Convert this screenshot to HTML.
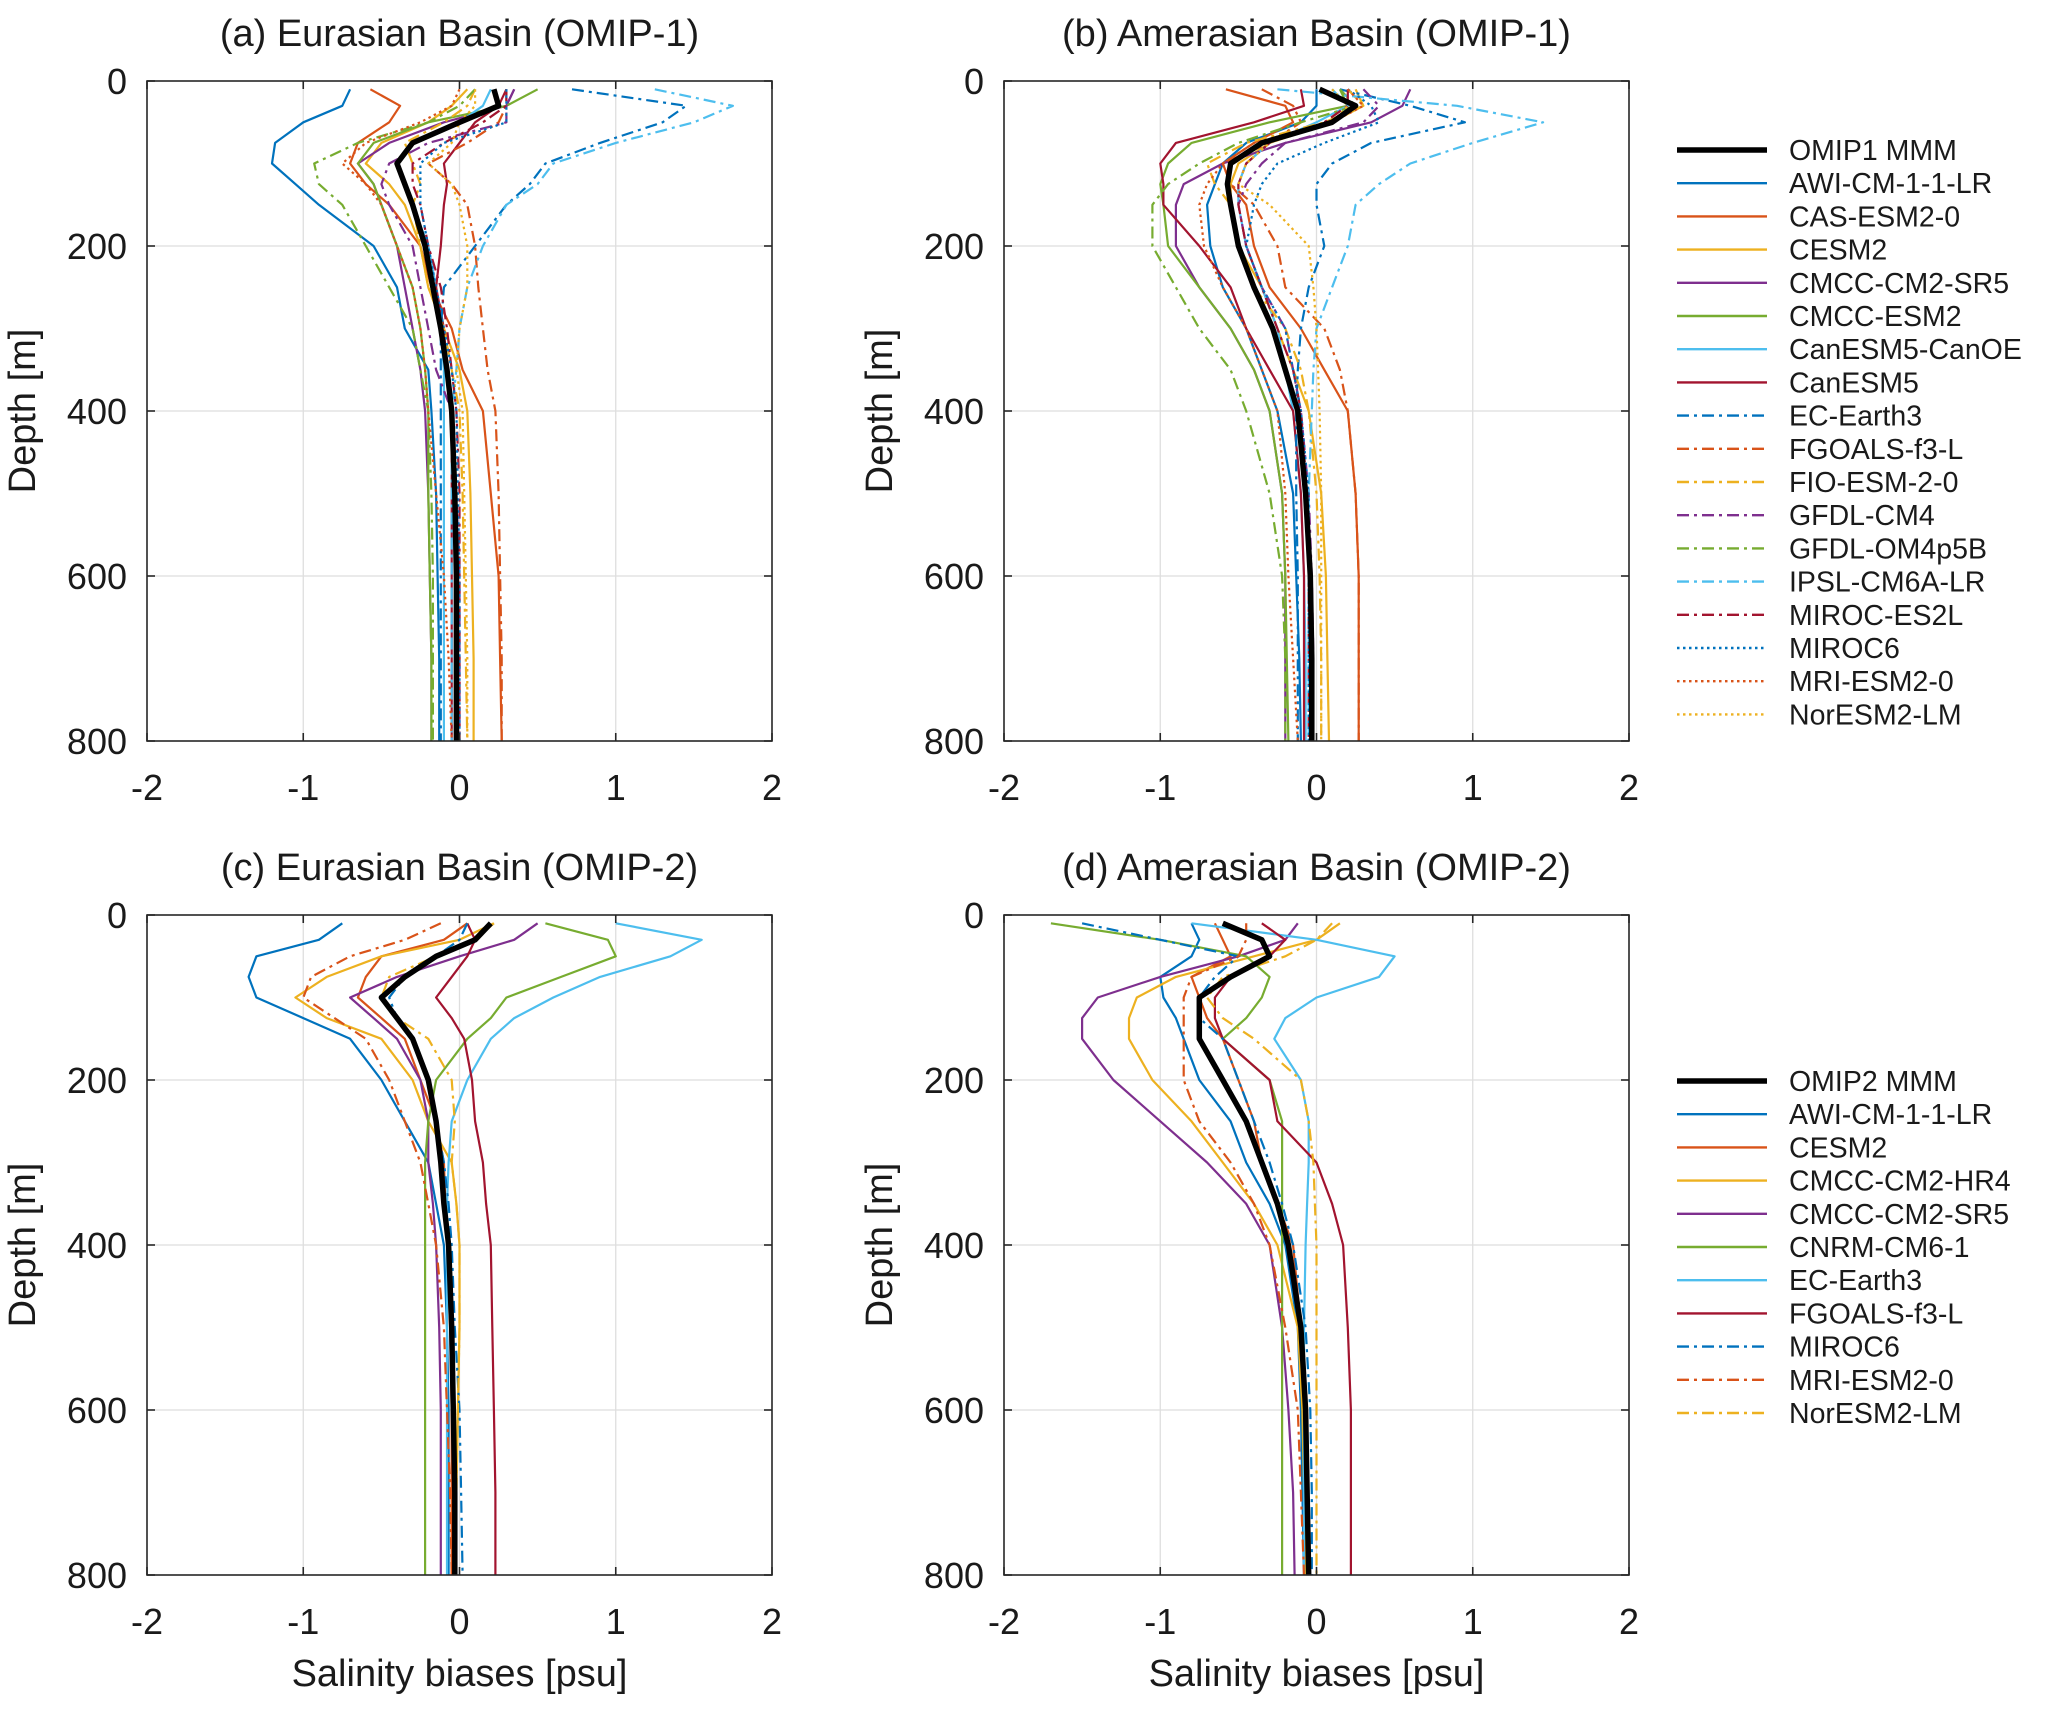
<!DOCTYPE html>
<html><head><meta charset="utf-8">
<style>
html,body{margin:0;padding:0;background:#fff;}
svg{display:block;font-family:"Liberation Sans",Arial,sans-serif;}
</style></head>
<body>
<svg id="fig" width="2067" height="1713" viewBox="0 0 2067 1713" xmlns="http://www.w3.org/2000/svg"></svg>
<script>
const depths=[10,30,50,75,100,125,150,200,250,300,350,400,500,600,700,800];
const xTicks=[-2,-1,0,1,2];
const yTicks=[0,200,400,600,800];
const omip1Names=["AWI-CM-1-1-LR","CAS-ESM2-0","CESM2","CMCC-CM2-SR5","CMCC-ESM2","CanESM5-CanOE","CanESM5","EC-Earth3","FGOALS-f3-L","FIO-ESM-2-0","GFDL-CM4","GFDL-OM4p5B","IPSL-CM6A-LR","MIROC-ES2L","MIROC6","MRI-ESM2-0","NorESM2-LM"];
const omip2Names=["AWI-CM-1-1-LR","CESM2","CMCC-CM2-HR4","CMCC-CM2-SR5","CNRM-CM6-1","EC-Earth3","FGOALS-f3-L","MIROC6","MRI-ESM2-0","NorESM2-LM"];
// Panel (a) Eurasian OMIP-1
const mmmA=[0.22,0.25,0.0,-0.3,-0.4,-0.35,-0.3,-0.22,-0.17,-0.12,-0.08,-0.05,-0.03,-0.02,-0.02,-0.02];
const seriesA=[
[-0.7,-0.75,-1.0,-1.18,-1.2,-1.05,-0.9,-0.55,-0.4,-0.35,-0.2,-0.18,-0.15,-0.14,-0.13,-0.13],
[-0.57,-0.38,-0.45,-0.65,-0.7,-0.6,-0.45,-0.25,-0.18,-0.05,0.02,0.15,0.2,0.25,0.26,0.27],
[0.05,-0.05,-0.2,-0.5,-0.6,-0.45,-0.35,-0.25,-0.2,-0.1,0.0,0.05,0.07,0.08,0.09,0.09],
[0.35,0.3,-0.1,-0.45,-0.65,-0.55,-0.5,-0.4,-0.35,-0.3,-0.25,-0.22,-0.2,-0.19,-0.18,-0.18],
[0.5,0.3,-0.2,-0.55,-0.65,-0.55,-0.5,-0.4,-0.3,-0.25,-0.22,-0.2,-0.2,-0.19,-0.18,-0.18],
[0.2,0.15,0,-0.3,-0.4,-0.35,-0.3,-0.2,-0.15,-0.12,-0.1,-0.1,-0.1,-0.1,-0.1,-0.1],
[0.3,0.25,0.1,0,-0.1,-0.08,-0.1,-0.12,-0.15,-0.1,-0.08,-0.05,-0.05,-0.05,-0.05,-0.05],
[0.72,1.45,1.3,0.9,0.55,0.45,0.3,0.1,-0.1,-0.12,-0.12,-0.12,-0.12,-0.12,-0.12,-0.12],
[0.3,0.3,0.25,0.05,-0.2,-0.05,0.05,0.1,0.12,0.15,0.18,0.23,0.25,0.26,0.27,0.27],
[0.1,0.05,-0.1,-0.35,-0.3,-0.25,-0.3,-0.25,-0.2,-0.1,-0.05,0,0.02,0.03,0.04,0.05],
[0.35,0.3,0.3,-0.2,-0.45,-0.5,-0.45,-0.3,-0.25,-0.2,-0.15,-0.05,-0.02,0,0,0],
[0.1,0,-0.2,-0.65,-0.93,-0.9,-0.75,-0.6,-0.45,-0.3,-0.25,-0.2,-0.18,-0.17,-0.17,-0.17],
[1.25,1.75,1.5,1.0,0.6,0.5,0.3,0.15,0.05,0,-0.02,-0.05,-0.05,-0.05,-0.05,-0.05],
[0.3,0.3,0.15,-0.1,-0.3,-0.3,-0.25,-0.2,-0.12,-0.08,-0.05,-0.02,0,0,0,0],
[0.3,0.3,0.3,-0.1,-0.25,-0.25,-0.25,-0.2,-0.15,-0.1,-0.05,-0.02,-0.01,0,0,0],
[0,-0.05,-0.25,-0.6,-0.75,-0.6,-0.5,-0.4,-0.3,-0.25,-0.22,-0.2,-0.15,-0.1,-0.07,-0.05],
[0.1,0.1,0,-0.05,-0.2,-0.05,0,0.05,0.05,0,-0.02,0.02,0.03,0.04,0.05,0.05]];
// Panel (b) Amerasian OMIP-1
const mmmB=[0.02,0.25,0.1,-0.35,-0.55,-0.57,-0.55,-0.5,-0.4,-0.28,-0.2,-0.12,-0.07,-0.04,-0.03,-0.03];
const seriesB=[
[0.0,0.0,-0.1,-0.45,-0.6,-0.65,-0.7,-0.68,-0.6,-0.45,-0.35,-0.25,-0.15,-0.13,-0.11,-0.1],
[-0.58,-0.2,-0.15,-0.4,-0.6,-0.55,-0.45,-0.4,-0.3,-0.1,0.05,0.2,0.25,0.27,0.27,0.27],
[0.25,0.3,0.1,-0.3,-0.5,-0.55,-0.55,-0.5,-0.35,-0.25,-0.15,-0.05,0.03,0.06,0.07,0.08],
[0.6,0.55,0.35,-0.2,-0.6,-0.85,-0.9,-0.9,-0.75,-0.55,-0.4,-0.3,-0.22,-0.2,-0.2,-0.2],
[0.15,0.2,-0.3,-0.8,-0.95,-1.0,-0.98,-0.95,-0.75,-0.55,-0.4,-0.3,-0.22,-0.2,-0.19,-0.18],
[0.1,0.2,0.0,-0.3,-0.45,-0.5,-0.5,-0.45,-0.35,-0.25,-0.2,-0.15,-0.1,-0.08,-0.07,-0.07],
[-0.1,-0.08,-0.4,-0.9,-1.0,-0.98,-0.98,-0.75,-0.55,-0.45,-0.3,-0.15,-0.1,-0.08,-0.08,-0.08],
[0.15,0.6,0.95,0.35,0.1,0.0,0.0,0.05,-0.05,-0.1,-0.12,-0.13,-0.13,-0.12,-0.12,-0.12],
[-0.35,-0.15,-0.1,-0.3,-0.6,-0.55,-0.4,-0.25,-0.2,0.05,0.15,0.2,0.25,0.27,0.27,0.27],
[0.2,0.3,0.05,-0.45,-0.7,-0.65,-0.55,-0.5,-0.4,-0.2,-0.1,-0.05,0.0,0.02,0.03,0.03],
[0.3,0.4,0.3,-0.2,-0.35,-0.45,-0.5,-0.45,-0.35,-0.2,-0.15,-0.1,-0.05,-0.03,-0.02,-0.02],
[0.15,0.25,-0.1,-0.5,-0.75,-0.95,-1.05,-1.05,-0.9,-0.75,-0.55,-0.45,-0.3,-0.22,-0.2,-0.2],
[-0.25,0.9,1.45,1.0,0.6,0.4,0.25,0.2,0.1,0.0,-0.02,-0.03,-0.05,-0.05,-0.05,-0.05],
[0.2,0.2,0.05,-0.3,-0.45,-0.5,-0.5,-0.45,-0.35,-0.25,-0.15,-0.1,-0.06,-0.05,-0.05,-0.05],
[0.2,0.35,0.4,0.05,-0.25,-0.35,-0.4,-0.45,-0.35,-0.2,-0.15,-0.1,-0.05,-0.05,-0.05,-0.05],
[0.2,0.3,0.1,-0.4,-0.6,-0.7,-0.75,-0.72,-0.6,-0.45,-0.35,-0.25,-0.2,-0.18,-0.15,-0.12],
[0.1,0.2,0.1,-0.3,-0.45,-0.5,-0.3,-0.05,-0.02,0.0,0.01,0.02,0.03,0.03,0.03,0.03]];
// Panel (c) Eurasian OMIP-2
const mmmC=[0.2,0.1,-0.15,-0.35,-0.5,-0.4,-0.3,-0.2,-0.15,-0.12,-0.1,-0.07,-0.05,-0.04,-0.03,-0.03];
const seriesC=[
[-0.75,-0.9,-1.3,-1.35,-1.3,-1.0,-0.7,-0.5,-0.35,-0.2,-0.15,-0.1,-0.08,-0.07,-0.07,-0.07],
[0.05,-0.1,-0.5,-0.6,-0.65,-0.5,-0.35,-0.25,-0.15,-0.1,-0.09,-0.08,-0.06,-0.05,-0.05,-0.05],
[0.22,0.0,-0.5,-0.85,-1.05,-0.85,-0.5,-0.3,-0.2,-0.05,-0.02,0.0,0.0,-0.01,-0.02,-0.02],
[0.5,0.35,0.0,-0.4,-0.7,-0.55,-0.4,-0.25,-0.2,-0.2,-0.17,-0.15,-0.13,-0.12,-0.12,-0.12],
[0.55,0.95,1.0,0.65,0.3,0.2,0.05,-0.15,-0.2,-0.22,-0.22,-0.22,-0.22,-0.22,-0.22,-0.22],
[1.0,1.55,1.35,0.9,0.6,0.35,0.2,0.05,-0.05,-0.07,-0.08,-0.08,-0.08,-0.08,-0.08,-0.08],
[0.05,0.1,0.05,-0.05,-0.15,-0.05,0.03,0.08,0.1,0.15,0.17,0.2,0.21,0.22,0.23,0.23],
[0.05,0.0,-0.15,-0.35,-0.45,-0.4,-0.3,-0.2,-0.15,-0.1,-0.07,-0.05,-0.03,0.0,0.01,0.02],
[-0.12,-0.35,-0.7,-0.95,-1.0,-0.8,-0.6,-0.45,-0.35,-0.25,-0.2,-0.15,-0.1,-0.08,-0.06,-0.05],
[0.22,0.1,-0.15,-0.45,-0.5,-0.4,-0.2,-0.05,-0.03,-0.05,-0.02,0.0,0.0,-0.01,-0.02,-0.02]];
// Panel (d) Amerasian OMIP-2
const mmmD=[-0.6,-0.35,-0.3,-0.55,-0.75,-0.75,-0.75,-0.6,-0.45,-0.35,-0.25,-0.18,-0.1,-0.07,-0.06,-0.05];
const seriesD=[
[-0.8,-0.75,-0.8,-1.0,-0.98,-0.9,-0.85,-0.75,-0.55,-0.45,-0.3,-0.2,-0.12,-0.1,-0.09,-0.08],
[-0.65,-0.6,-0.55,-0.8,-0.75,-0.7,-0.6,-0.5,-0.4,-0.35,-0.25,-0.15,-0.1,-0.08,-0.07,-0.06],
[0.15,0.0,-0.4,-0.9,-1.15,-1.2,-1.2,-1.05,-0.8,-0.6,-0.4,-0.25,-0.12,-0.09,-0.08,-0.07],
[-0.12,-0.2,-0.5,-1.0,-1.4,-1.5,-1.5,-1.3,-1.0,-0.7,-0.45,-0.3,-0.22,-0.18,-0.15,-0.14],
[-1.7,-1.0,-0.45,-0.3,-0.35,-0.45,-0.6,-0.3,-0.22,-0.22,-0.22,-0.22,-0.22,-0.22,-0.22,-0.22],
[-0.8,0.0,0.5,0.4,0.0,-0.2,-0.27,-0.1,-0.05,-0.05,-0.06,-0.07,-0.08,-0.08,-0.08,-0.08],
[-0.35,-0.2,-0.3,-0.55,-0.65,-0.65,-0.6,-0.3,-0.25,0.0,0.1,0.17,0.2,0.22,0.22,0.22],
[-1.5,-1.0,-0.5,-0.65,-0.75,-0.75,-0.6,-0.5,-0.4,-0.3,-0.22,-0.15,-0.07,-0.04,-0.03,-0.03],
[-0.45,-0.45,-0.5,-0.8,-0.85,-0.85,-0.85,-0.85,-0.75,-0.55,-0.4,-0.3,-0.2,-0.12,-0.1,-0.08],
[0.1,0.0,-0.2,-0.6,-0.7,-0.6,-0.4,-0.1,-0.05,-0.02,-0.01,0.0,0.0,0.0,0.0,0.0]];

const C={blue:"#0072BD",red:"#D95319",yel:"#EDB120",pur:"#7E2F8E",grn:"#77AC30",cya:"#4DBEEE",drd:"#A2142F"};
const DD="12,5,3,5", DOT="2.5,3.5";
const style1=[[C.blue,""],[C.red,""],[C.yel,""],[C.pur,""],[C.grn,""],[C.cya,""],[C.drd,""],[C.blue,DD],[C.red,DD],[C.yel,DD],[C.pur,DD],[C.grn,DD],[C.cya,DD],[C.drd,DD],[C.blue,DOT],[C.red,DOT],[C.yel,DOT]];
const style2=[[C.blue,""],[C.red,""],[C.yel,""],[C.pur,""],[C.grn,""],[C.cya,""],[C.drd,""],[C.blue,DD],[C.red,DD],[C.yel,DD]];

const NS="http://www.w3.org/2000/svg";
const svg=document.getElementById("fig");
function mk(tag,attrs,parent){const e=document.createElementNS(NS,tag);for(const k in attrs)e.setAttribute(k,attrs[k]);(parent||svg).appendChild(e);return e;}
const PW=625,PH=660;

function panel(id,x0,y0,title,mmm,series,styles,names,showX){
  const g=mk("g",{});
  
  
  const xs=v=>x0+(v+2)/4*PW;
  const ys=d=>y0+d/800*PH;
  xTicks.forEach(t=>{if(t>-2&&t<2){const l=mk("line",{x1:xs(t),x2:xs(t),y1:y0,y2:y0+PH,stroke:"#dedede","stroke-width":1.3},g);
    }});
  yTicks.forEach(t=>{if(t>0&&t<800){const l=mk("line",{x1:x0,x2:x0+PW,y1:ys(t),y2:ys(t),stroke:"#dedede","stroke-width":1.3},g);
    }});
  series.forEach((s,i)=>{
    const pts=s.map((v,k)=>xs(v).toFixed(1)+","+ys(depths[k]).toFixed(1)).join(" ");
    const a={points:pts,fill:"none",stroke:styles[i][0],"stroke-width":2.2,"stroke-linejoin":"round"};
    if(styles[i][1])a["stroke-dasharray"]=styles[i][1];
    const p=mk("polyline",a,g);
    
    
  });
  const mp=mk("polyline",{points:mmm.map((v,k)=>xs(v).toFixed(1)+","+ys(depths[k]).toFixed(1)).join(" "),fill:"none",stroke:"#000","stroke-width":5.5,"stroke-linejoin":"round"},g);
  
  
  const r=mk("rect",{x:x0,y:y0,width:PW,height:PH,fill:"none",stroke:"#262626","stroke-width":1.6},g);
  
  
  xTicks.forEach(t=>{
    mk("line",{x1:xs(t),x2:xs(t),y1:y0+PH,y2:y0+PH-8,stroke:"#262626","stroke-width":1.6},g);
    mk("line",{x1:xs(t),x2:xs(t),y1:y0,y2:y0+8,stroke:"#262626","stroke-width":1.6},g);
    const tx=mk("text",{x:xs(t),y:y0+PH+59,"font-size":36,"text-anchor":"middle",fill:"#1a1a1a"},g);
    tx.textContent=String(t);
    
    
  });
  yTicks.forEach(t=>{
    mk("line",{x1:x0,x2:x0+8,y1:ys(t),y2:ys(t),stroke:"#262626","stroke-width":1.6},g);
    mk("line",{x1:x0+PW,x2:x0+PW-8,y1:ys(t),y2:ys(t),stroke:"#262626","stroke-width":1.6},g);
    const tx=mk("text",{x:x0-20,y:ys(t)+13,"font-size":36,"text-anchor":"end",fill:"#1a1a1a"},g);
    tx.textContent=String(t);
    
    
  });
  const tt=mk("text",{x:x0+PW/2,y:y0-35,"font-size":38,"text-anchor":"middle",fill:"#1a1a1a"},g);
  tt.textContent=title;
  
  
  const yl=mk("text",{x:0,y:0,"font-size":38,"text-anchor":"middle",fill:"#1a1a1a",transform:`translate(${x0-112},${y0+PH/2}) rotate(-90)`},g);
  yl.textContent="Depth [m]";
  
  
  if(showX){
    const xl=mk("text",{x:x0+PW/2,y:y0+PH+111,"font-size":38,"text-anchor":"middle",fill:"#1a1a1a"},g);
    xl.textContent="Salinity biases [psu]";
    
    
  }
}
function legend(id,y0,mmmLabel,styles,names){
  const g=mk("g",{});
  
  
  const all=[["#000","",mmmLabel,5.5]].concat(names.map((n,i)=>[styles[i][0],styles[i][1],n,2.4]));
  all.forEach((e,i)=>{
    const y=y0+i*33.2;
    const a={x1:1677,x2:1767,y1:y,y2:y,stroke:e[0],"stroke-width":e[3]};
    if(e[1])a["stroke-dasharray"]=e[1];
    const ln=mk("line",a,g);
    
    
    const t=mk("text",{x:1789,y:y+10,"font-size":28.5,fill:"#1a1a1a"},g);
    t.textContent=e[2];
    
    
  });
}
panel("a",147,81,"(a) Eurasian Basin (OMIP-1)",mmmA,seriesA,style1,omip1Names,false);
panel("b",1004,81,"(b) Amerasian Basin (OMIP-1)",mmmB,seriesB,style1,omip1Names,false);
panel("c",147,915,"(c) Eurasian Basin (OMIP-2)",mmmC,seriesC,style2,omip2Names,true);
panel("d",1004,915,"(d) Amerasian Basin (OMIP-2)",mmmD,seriesD,style2,omip2Names,true);
legend("omip1",150,"OMIP1 MMM",style1,omip1Names);
legend("omip2",1081,"OMIP2 MMM",style2,omip2Names);
</script>
</body></html>
